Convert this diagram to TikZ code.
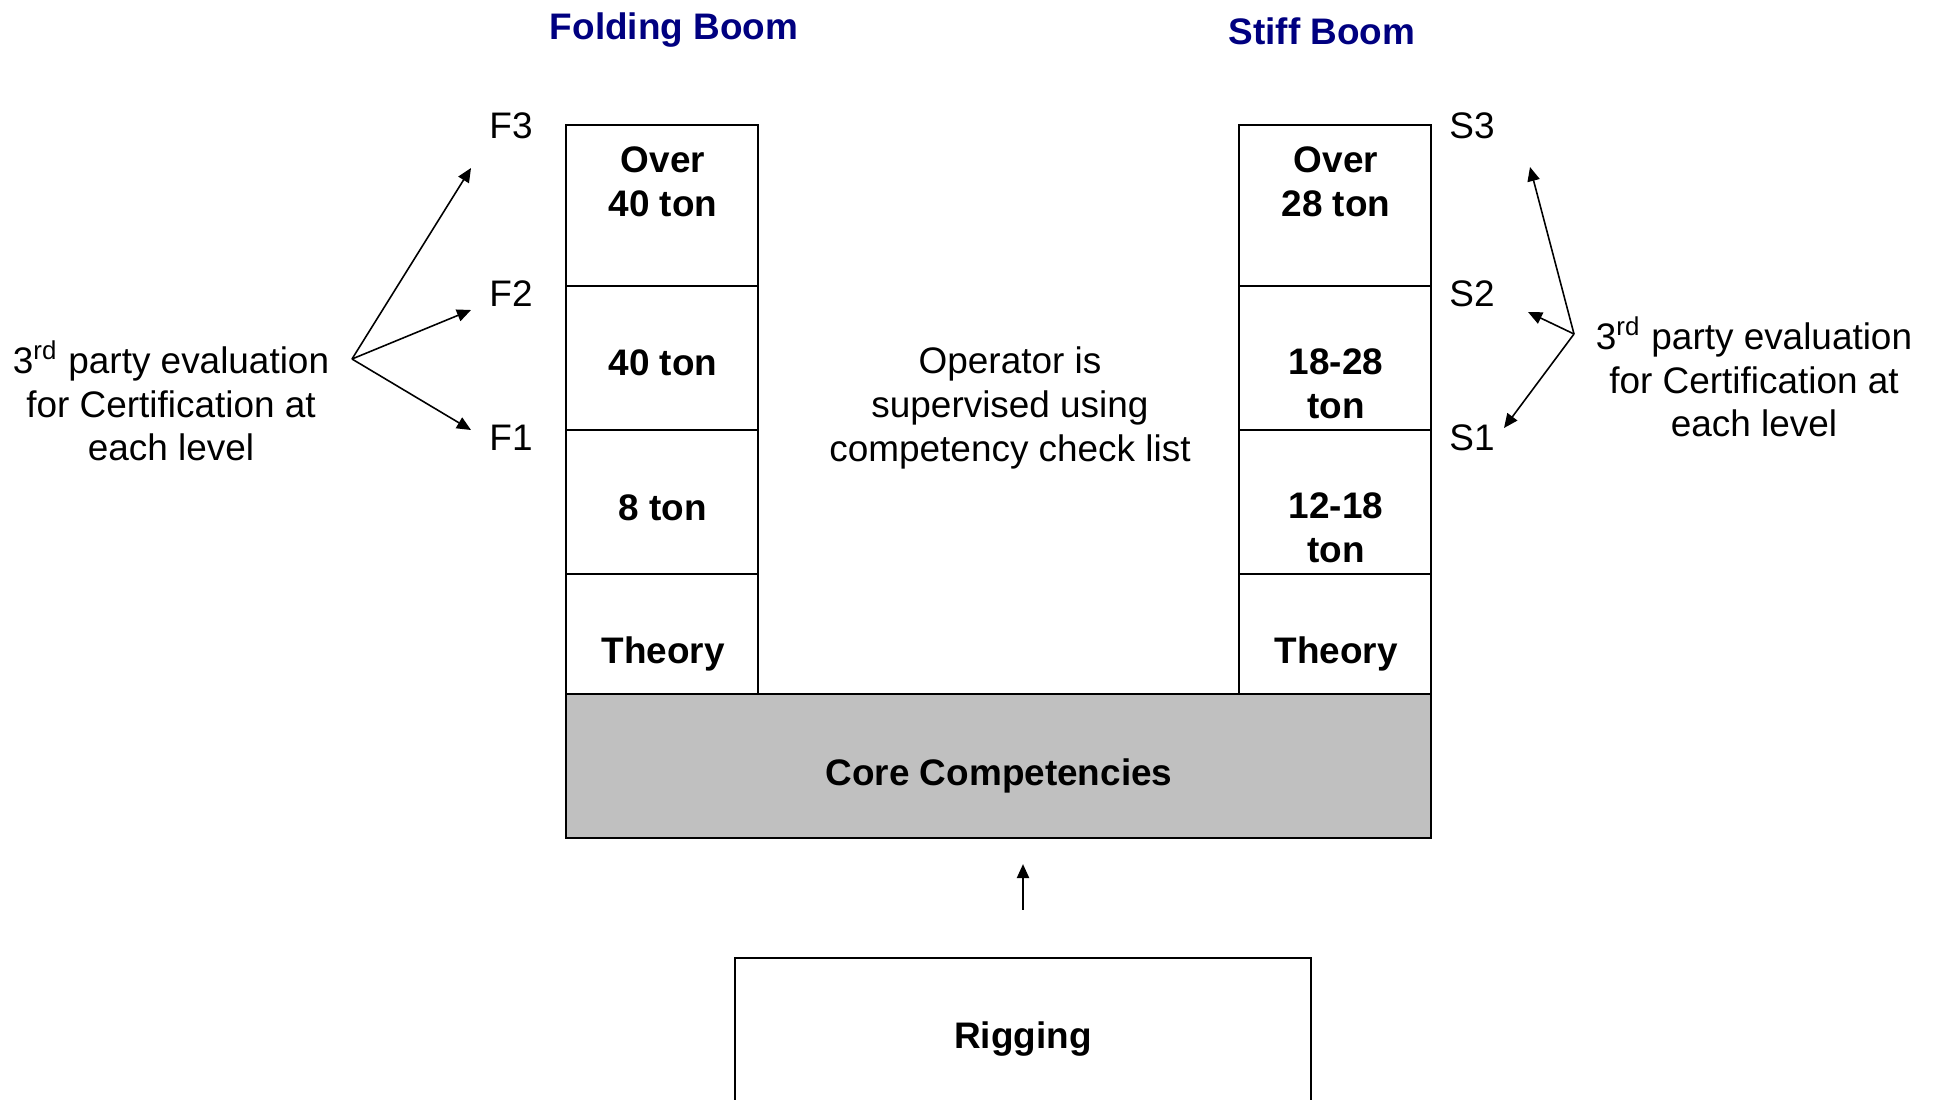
\documentclass[tikz,border=0pt]{standalone}
\usepackage{fontspec}
\setmainfont{Liberation Sans}
\usepackage{xcolor}
\usetikzlibrary{arrows.meta}
\definecolor{ink}{HTML}{000000}
\definecolor{navy}{HTML}{000080}
\definecolor{corefill}{HTML}{C0C0C0}
\tikzset{
  box/.style={draw=ink, line width=0.6pt, minimum width=1.92cm, inner sep=0pt},
  lab/.style={text=ink, font=\fontsize{10.5}{12.4}\selectfont, align=center, inner sep=0pt},
  labb/.style={lab, font=\fontsize{10.5}{12.4}\selectfont\bfseries},
  head/.style={text=navy, font=\fontsize{10.5}{12.4}\selectfont\bfseries, inner sep=0pt},
  arr/.style={draw=ink, line width=0.45pt, -{Triangle[length=4pt,width=3.5pt]}},
}
\begin{document}
\begin{tikzpicture}[x=0.01cm, y=-0.01cm]
  \clip (0,0) rectangle (1939,1100);
  \fill[white] (0,0) rectangle (1939,1100);
  \node[box, minimum height=1.61cm] (f3) at (662,205.5) {};
  \node[box, minimum height=1.44cm] (f2) at (662,358) {};
  \node[box, minimum height=1.44cm] (f1) at (662,502) {};
  \node[box, minimum height=1.20cm] (ft) at (662,634) {};
  \node[box, minimum height=1.61cm] (s3) at (1335,205.5) {};
  \node[box, minimum height=1.44cm] (s2) at (1335,358) {};
  \node[box, minimum height=1.44cm] (s1) at (1335,502) {};
  \node[box, minimum height=1.20cm] (st) at (1335,634) {};
  \node[box, fill=corefill, minimum width=8.65cm, minimum height=1.44cm] (core) at (998.5,766) {};
  \node[box, minimum width=5.76cm, minimum height=2.00cm] (rig) at (1023,1058) {};
  \node[labb] (f3t) at (663,181.5) {Over\\40 ton};
  \node[labb] (f2t) at (663,363) {40 ton};
  \node[labb] (f1t) at (663,508) {8 ton};
  \node[labb] (ftt) at (663,654) {Theory};
  \node[labb] (s3t) at (1336,181.5) {Over\\28 ton};
  \node[labb] (s2t) at (1336,384) {18-28\\ton};
  \node[labb] (s1t) at (1336,528) {12-18\\ton};
  \node[labb] (stt) at (1336,654) {Theory};
  \node[labb] (coret) at (999,776) {Core Competencies};
  \node[labb] (rigt) at (1023,1039) {Rigging};
  \node[head] (fold) at (674,30) {Folding Boom};
  \node[head] (stiff) at (1322,31) {Stiff Boom};
  \node[lab] (fl3) at (511,126) {F3};
  \node[lab] (fl2) at (511,294) {F2};
  \node[lab] (fl1) at (511,438) {F1};
  \node[lab] (sl3) at (1472,126) {S3};
  \node[lab] (sl2) at (1472,294) {S2};
  \node[lab] (sl1) at (1472,438) {S1};
  \node[lab] (feval) at (171,401) {3\textsuperscript{rd} party evaluation\\for Certification at\\each level};
  \node[lab] (seval) at (1754,377) {3\textsuperscript{rd} party evaluation\\for Certification at\\each level};
  \node[lab] (oper) at (1010,408) {Operator is\\supervised using\\competency check list};
  \coordinate (fo) at (352,359);
  \coordinate (fa3) at (471,168);
  \coordinate (fa2) at (471,310);
  \coordinate (fa1) at (471,430);
  \coordinate (so) at (1574,334);
  \coordinate (sa3) at (1530,167);
  \coordinate (sa2) at (1528,312);
  \coordinate (sa1) at (1504,428);
  \draw[arr] (fo) -- (fa3);
  \draw[arr] (fo) -- (fa2);
  \draw[arr] (fo) -- (fa1);
  \draw[arr] (so) -- (sa3);
  \draw[arr] (so) -- (sa2);
  \draw[arr] (so) -- (sa1);
  \draw[arr] ([yshift=0.47cm]rig.north) -- ([yshift=-0.25cm]rig.north |- core.south);
\end{tikzpicture}
\end{document}
